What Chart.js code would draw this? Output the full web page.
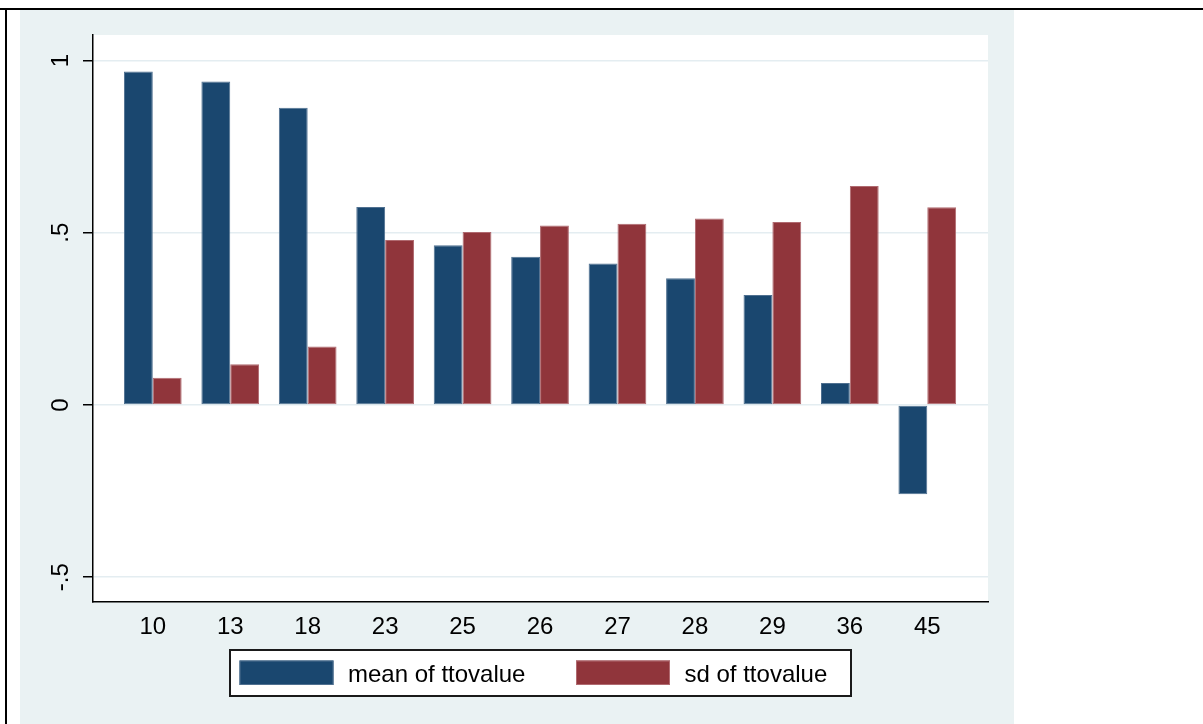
<!DOCTYPE html>
<html>
<head>
<meta charset="utf-8">
<title>mean and sd of ttovalue</title>
<script src="https://cdn.jsdelivr.net/npm/chart.js@4.4.0/dist/chart.umd.min.js"></script>
<style>
  html, body { margin: 0; padding: 0; background: #ffffff; }
  #wrap { width: 1203px; height: 724px; position: relative; }
  canvas { display: block; }
</style>
</head>
<body>
<div id="wrap"><canvas id="chart" width="1203" height="724"></canvas></div>
<script>
// Groups along the x axis
const categories = ['10', '13', '18', '23', '25', '26', '27', '28', '29', '36', '45'];

// Series values per group
const meanTtovalue = [0.968, 0.939, 0.863, 0.575, 0.464, 0.430, 0.411, 0.368, 0.319, 0.064, -0.259];
const sdTtovalue   = [0.079, 0.118, 0.170, 0.479, 0.502, 0.521, 0.526, 0.541, 0.531, 0.636, 0.574];

// Series names
const seriesNames = ['mean of ttovalue', 'sd of ttovalue'];

// Y axis ticks and their labels
const yTickValues = [-0.5, 0, 0.5, 1];
const yTickLabels = ['-.5', '0', '.5', '1'];

const FONT = '"Liberation Sans", Arial, Helvetica, sans-serif';
const NAVY = '#1a476f';
const MAROON = '#90353b';
const PANEL = '#eaf2f3';

Chart.defaults.font.family = FONT;
Chart.defaults.font.size = 24;
Chart.defaults.color = '#000000';

// Page frame, shaded panel and the white plot region
const backdrop = {
  id: 'backdrop',
  beforeDraw(chart) {
    const { ctx, chartArea: a } = chart;
    ctx.save();
    ctx.fillStyle = '#ffffff';
    ctx.fillRect(0, 0, chart.width, chart.height);
    ctx.fillStyle = PANEL;
    ctx.fillRect(20, 10, 994, chart.height - 10);
    ctx.fillStyle = '#000000';
    ctx.fillRect(0, 8, chart.width, 2);
    ctx.fillRect(5, 8, 2, chart.height - 8);
    ctx.fillStyle = '#ffffff';
    ctx.fillRect(a.left, a.top, a.right - a.left, a.bottom - a.top);
    ctx.restore();
  }
};

// Boxed legend centred under the plot region
const boxedLegend = {
  id: 'boxedLegend',
  afterDraw(chart) {
    const { ctx, chartArea: a } = chart;
    const cx = (a.left + a.right) / 2;
    ctx.save();
    ctx.fillStyle = '#ffffff';
    ctx.fillRect(cx - 310.5, 650, 621, 46);
    ctx.strokeStyle = '#1a1a1a';
    ctx.lineWidth = 2;
    ctx.strokeRect(cx - 310.5, 650, 621, 46);

    const items = [
      { color: NAVY, border: '#4f7090', swatchX: cx - 301, textX: cx - 192.5 },
      { color: MAROON, border: '#b06a70', swatchX: cx + 35.5, textX: cx + 144 }
    ];
    ctx.font = '24px ' + FONT;
    ctx.textBaseline = 'alphabetic';
    ctx.textAlign = 'left';
    items.forEach((it, i) => {
      ctx.fillStyle = it.color;
      ctx.fillRect(it.swatchX, 660.5, 94, 24.5);
      ctx.strokeStyle = it.border;
      ctx.lineWidth = 1;
      ctx.strokeRect(it.swatchX + 0.5, 661, 93, 23.5);
      ctx.fillStyle = '#000000';
      ctx.fillText(seriesNames[i], it.textX, 682);
    });
    ctx.restore();
  }
};

const toPoints = (vals) => vals.map((v, i) => ({ x: i, y: v }));

new Chart(document.getElementById('chart'), {
  type: 'bar',
  data: {
    datasets: [
      {
        label: seriesNames[0],
        data: toPoints(meanTtovalue),
        backgroundColor: NAVY,
        borderColor: '#4f7090',
        borderWidth: 1,
        borderSkipped: false
      },
      {
        label: seriesNames[1],
        data: toPoints(sdTtovalue),
        backgroundColor: MAROON,
        borderColor: '#b06a70',
        borderWidth: 1,
        borderSkipped: false
      }
    ]
  },
  options: {
    responsive: false,
    animation: false,
    devicePixelRatio: 1,
    categoryPercentage: 0.745,
    barPercentage: 1,
    layout: { padding: { left: 0, right: 215, top: 35, bottom: 72 } },
    plugins: {
      legend: { display: false },
      tooltip: { enabled: false }
    },
    scales: {
      x: {
        type: 'linear',
        offset: false,
        min: -0.772,
        max: 10.784,
        afterBuildTicks(scale) {
          scale.ticks = categories.map((c, i) => ({ value: i }));
        },
        afterFit(scale) { scale.height = 50; },
        grid: { display: false, drawTicks: false },
        border: { display: true, color: '#000000', width: 1.5 },
        ticks: {
          padding: 11,
          maxRotation: 0,
          minRotation: 0,
          autoSkip: false,
          callback: (v) => categories[v] ?? ''
        }
      },
      y: {
        type: 'linear',
        min: -0.572,
        max: 1.074,
        afterBuildTicks(scale) {
          scale.ticks = yTickValues.map((v) => ({ value: v }));
        },
        afterFit(scale) { scale.width = 93; },
        grid: {
          color: '#e4edf1',
          lineWidth: 1.5,
          drawTicks: true,
          tickLength: 10,
          tickColor: '#000000',
          tickWidth: 1.5
        },
        border: { display: true, color: '#000000', width: 1.5 },
        ticks: {
          minRotation: 90,
          maxRotation: 90,
          crossAlign: 'center',
          padding: 8,
          callback: (v) => {
            const k = yTickValues.indexOf(v);
            return k >= 0 ? yTickLabels[k] : '';
          }
        }
      }
    }
  },
  plugins: [backdrop, boxedLegend]
});
</script>
</body>
</html>
